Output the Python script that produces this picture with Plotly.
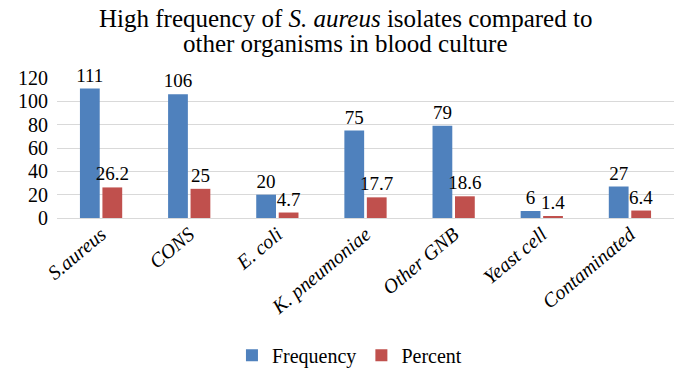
import plotly.graph_objects as go

categories = ["S.aureus", "CONS", "E. coli", "K. pneumoniae", "Other GNB", "Yeast cell", "Contaminated"]
frequency = [111, 106, 20, 75, 79, 6, 27]
percent = [26.2, 25, 4.7, 17.7, 18.6, 1.4, 6.4]
tick_labels = ["<i>%s</i>" % c for c in categories]
title_lines = ["High frequency of <i>S. aureus</i> isolates compared to",
               "other organisms in blood culture"]

FONT = "Liberation Serif"

fig = go.Figure()
fig.add_trace(go.Bar(
    x=categories, y=frequency, name="Frequency",
    marker=dict(color="#4F81BD", line=dict(width=0)),
    text=[str(v) for v in frequency], textposition="outside",
    textfont=dict(size=19, color="#000000", family=FONT),
    constraintext="none", cliponaxis=False,
))
fig.add_trace(go.Bar(
    x=categories, y=percent, name="Percent",
    marker=dict(color="#C0504D", line=dict(width=0)),
    text=[str(v) for v in percent], textposition="outside",
    textfont=dict(size=19, color="#000000", family=FONT),
    constraintext="none", cliponaxis=False,
))

for line, ypos in zip(title_lines, [1.425, 1.25]):
    fig.add_annotation(
        text=line, xref="paper", yref="paper", x=0.467, y=ypos,
        xanchor="center", yanchor="middle", showarrow=False,
        font=dict(size=25, family=FONT, color="#000000"),
    )

fig.update_layout(
    width=685, height=373,
    margin=dict(l=57, r=11, t=78, b=155, autoexpand=False),
    paper_bgcolor="white", plot_bgcolor="white",
    font=dict(family=FONT, color="#000000"),
    barmode="group", bargap=0.49, bargroupgap=0.12,
    showlegend=True,
    legend=dict(orientation="h", x=0.474, xanchor="center", y=-0.98, yanchor="middle",
                font=dict(size=20, family=FONT), itemwidth=30, tracegroupgap=0),
    xaxis=dict(
        tickmode="array", tickvals=categories, ticktext=tick_labels,
        tickangle=-40, tickfont=dict(size=20, family=FONT),
        showline=False, showgrid=False, ticks="", automargin=False,
    ),
    yaxis=dict(
        range=[0, 120], dtick=20, tickfont=dict(size=20, family=FONT),
        showgrid=True, gridcolor="#D9D9D9", gridwidth=1,
        zeroline=True, zerolinecolor="#D9D9D9", zerolinewidth=1,
        showline=False, ticks="", automargin=False, ticklabelstandoff=8,
    ),
)

fig.write_html("out.html", config={"displayModeBar": False},
               post_script="document.body.style.margin='0px';")
